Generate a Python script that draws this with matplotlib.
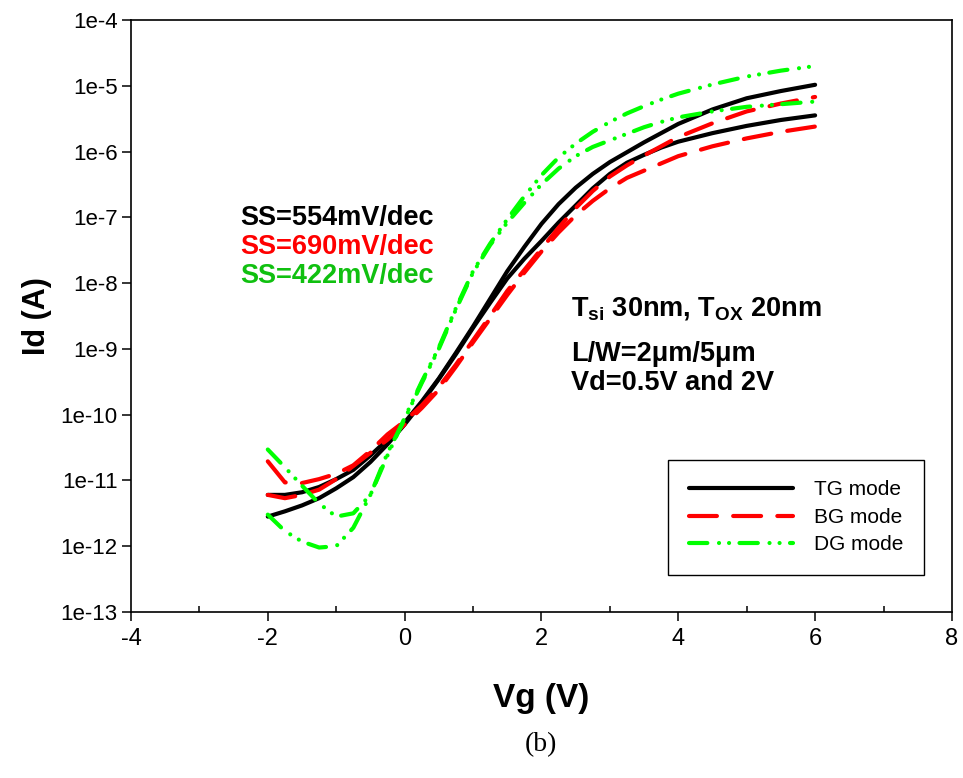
import matplotlib.pyplot as plt
import numpy as np
from matplotlib.ticker import FixedLocator, FuncFormatter, NullLocator

plt.rcParams['font.family'] = ['Liberation Sans', 'DejaVu Sans']
plt.rcParams['axes.unicode_minus'] = False
plt.rcParams['mathtext.fontset'] = 'custom'
plt.rcParams['mathtext.rm'] = 'Liberation Sans'
plt.rcParams['mathtext.bf'] = 'Liberation Sans:bold'

# gate voltage sweep (V)
vg = [-2, -1.75, -1.5, -1.25, -1, -0.75, -0.5, -0.25, 0, 0.25, 0.5, 0.75,
      1, 1.25, 1.5, 1.75, 2, 2.25, 2.5, 2.75, 3, 3.25, 3.5, 3.75,
      4, 4.5, 5, 5.5, 6]

# log10(Id) per mode, Vd = 2V and Vd = 0.5V
tg_2v = [-11.22, -11.22, -11.18, -11.10, -10.98, -10.84, -10.62, -10.38,
         -10.12, -9.80, -9.45, -9.06, -8.66, -8.24, -7.82, -7.45, -7.10,
         -6.80, -6.55, -6.34, -6.16, -6.01, -5.86, -5.72, -5.58, -5.36,
         -5.19, -5.08, -4.985]
tg_05v = [-11.55, -11.47, -11.38, -11.27, -11.12, -10.95, -10.72, -10.45,
          -10.15, -9.82, -9.46, -9.08, -8.68, -8.30, -7.93, -7.63, -7.36,
          -7.08, -6.82, -6.56, -6.34, -6.17, -6.05, -5.94, -5.85, -5.72,
          -5.61, -5.52, -5.45]
bg_2v = [-10.71, -11.03, -11.04, -10.98, -10.90, -10.77, -10.55, -10.30,
         -10.10, -9.86, -9.58, -9.24, -8.87, -8.50, -8.12, -7.80, -7.48,
         -7.16, -6.86, -6.60, -6.38, -6.21, -6.06, -5.92, -5.78, -5.57,
         -5.39, -5.27, -5.17]
bg_05v = [-11.22, -11.27, -11.22, -11.14, -10.98, -10.78, -10.58, -10.38,
          -10.15, -9.90, -9.62, -9.27, -8.90, -8.54, -8.18, -7.84, -7.52,
          -7.23, -6.97, -6.75, -6.56, -6.40, -6.29, -6.18, -6.07, -5.92,
          -5.80, -5.70, -5.62]
dg_2v = [-10.53, -10.80, -11.08, -11.35, -11.55, -11.50, -11.22, -10.62,
         -10.05, -9.50, -8.98, -8.38, -7.82, -7.40, -7.03, -6.68, -6.36,
         -6.09, -5.88, -5.70, -5.55, -5.42, -5.31, -5.21, -5.12, -4.98,
         -4.86, -4.77, -4.70]
dg_05v = [-11.52, -11.77, -11.93, -12.02, -12.00, -11.72, -11.22, -10.58,
          -10.07, -9.52, -9.00, -8.40, -7.84, -7.42, -7.08, -6.78, -6.50,
          -6.26, -6.07, -5.93, -5.83, -5.73, -5.63, -5.55, -5.48, -5.39,
          -5.32, -5.28, -5.24]

ss_labels = ['SS=554mV/dec', 'SS=690mV/dec', 'SS=422mV/dec']
ss_colors = ['black', '#ff0000', '#10c010']

fig = plt.figure(figsize=(9.63, 7.78), dpi=100)
ax = fig.add_axes([0.136, 0.2134, 0.8525, 0.7609])

lw = 3
tg_style = dict(color='black', lw=lw, solid_capstyle='round', solid_joinstyle='round')
bg_style = dict(color='#ff0000', lw=lw, dashes=(6.7, 3.9), dash_capstyle='round',
                dash_joinstyle='round')
dg_style = dict(color='#00ff00', lw=lw, dashes=(4.4, 2.8, 0.01, 2.4, 0.01, 2.5),
                dash_capstyle='round', dash_joinstyle='round')

ax.plot(vg, 10.0 ** np.array(tg_2v), label='TG mode', **tg_style)
ax.plot(vg, 10.0 ** np.array(tg_05v), **tg_style)
ax.plot(vg, 10.0 ** np.array(bg_2v), label='BG mode', **bg_style)
ax.plot(vg, 10.0 ** np.array(bg_05v), **bg_style)
ax.plot(vg, 10.0 ** np.array(dg_2v), label='DG mode', **dg_style)
ax.plot(vg, 10.0 ** np.array(dg_05v), **dg_style)

ax.set_yscale('log')
ax.set_xlim(-4, 8)
ax.set_ylim(1e-13, 1e-4)

ax.yaxis.set_major_locator(FixedLocator([10.0 ** k for k in range(-13, -3)]))
ax.yaxis.set_minor_locator(NullLocator())
ax.yaxis.set_major_formatter(FuncFormatter(lambda v, p: '1e%d' % round(np.log10(v))))
ax.xaxis.set_major_locator(FixedLocator([-4, -2, 0, 2, 4, 6, 8]))
ax.xaxis.set_minor_locator(FixedLocator([-3, -1, 1, 3, 5, 7]))

ax.tick_params(which='major', direction='out', length=6.5, width=1.1, pad=3)
ax.tick_params(axis='y', labelsize=16)
ax.tick_params(axis='x', labelsize=17, pad=5)
ax.tick_params(which='minor', axis='x', direction='in', length=4.5, width=1.1)
for sp in ax.spines.values():
    sp.set_linewidth(1.2)

ax.set_xlabel('Vg (V)', fontsize=24, fontweight='bold', labelpad=24)
ax.set_ylabel('Id (A)', fontsize=22, fontweight='bold', labelpad=6)

for i, (txt, col) in enumerate(zip(ss_labels, ss_colors)):
    ax.text(0.133, 0.654 - 0.049 * i, txt, transform=ax.transAxes, color=col,
            fontsize=19.5, fontweight='bold', va='baseline')

ax.text(0.536, 0.500, r'T$_{\mathbf{si}}$ 30nm, T$_{\mathbf{OX}}$ 20nm',
        transform=ax.transAxes, fontsize=19.5, fontweight='bold', va='baseline')
ax.text(0.536, 0.424, 'L/W=2\u03bcm/5\u03bcm', transform=ax.transAxes,
        fontsize=19.5, fontweight='bold', va='baseline')
ax.text(0.536, 0.375, 'Vd=0.5V and 2V', transform=ax.transAxes,
        fontsize=19.5, fontweight='bold', va='baseline')

leg = ax.legend(loc='lower right', bbox_to_anchor=(0.966, 0.0625), fontsize=15,
                handlelength=5, handletextpad=1.0, labelspacing=0.4,
                borderpad=1.0, borderaxespad=0, fancybox=False, framealpha=1)
leg.get_frame().set_edgecolor('black')
leg.get_frame().set_linewidth(1.0)

fig.text(541 / 963, 1 - 745 / 778, '(b)', ha='center', va='center', fontsize=20,
         fontfamily=['Liberation Serif', 'DejaVu Serif'])

fig.savefig('out.png', dpi=100)
